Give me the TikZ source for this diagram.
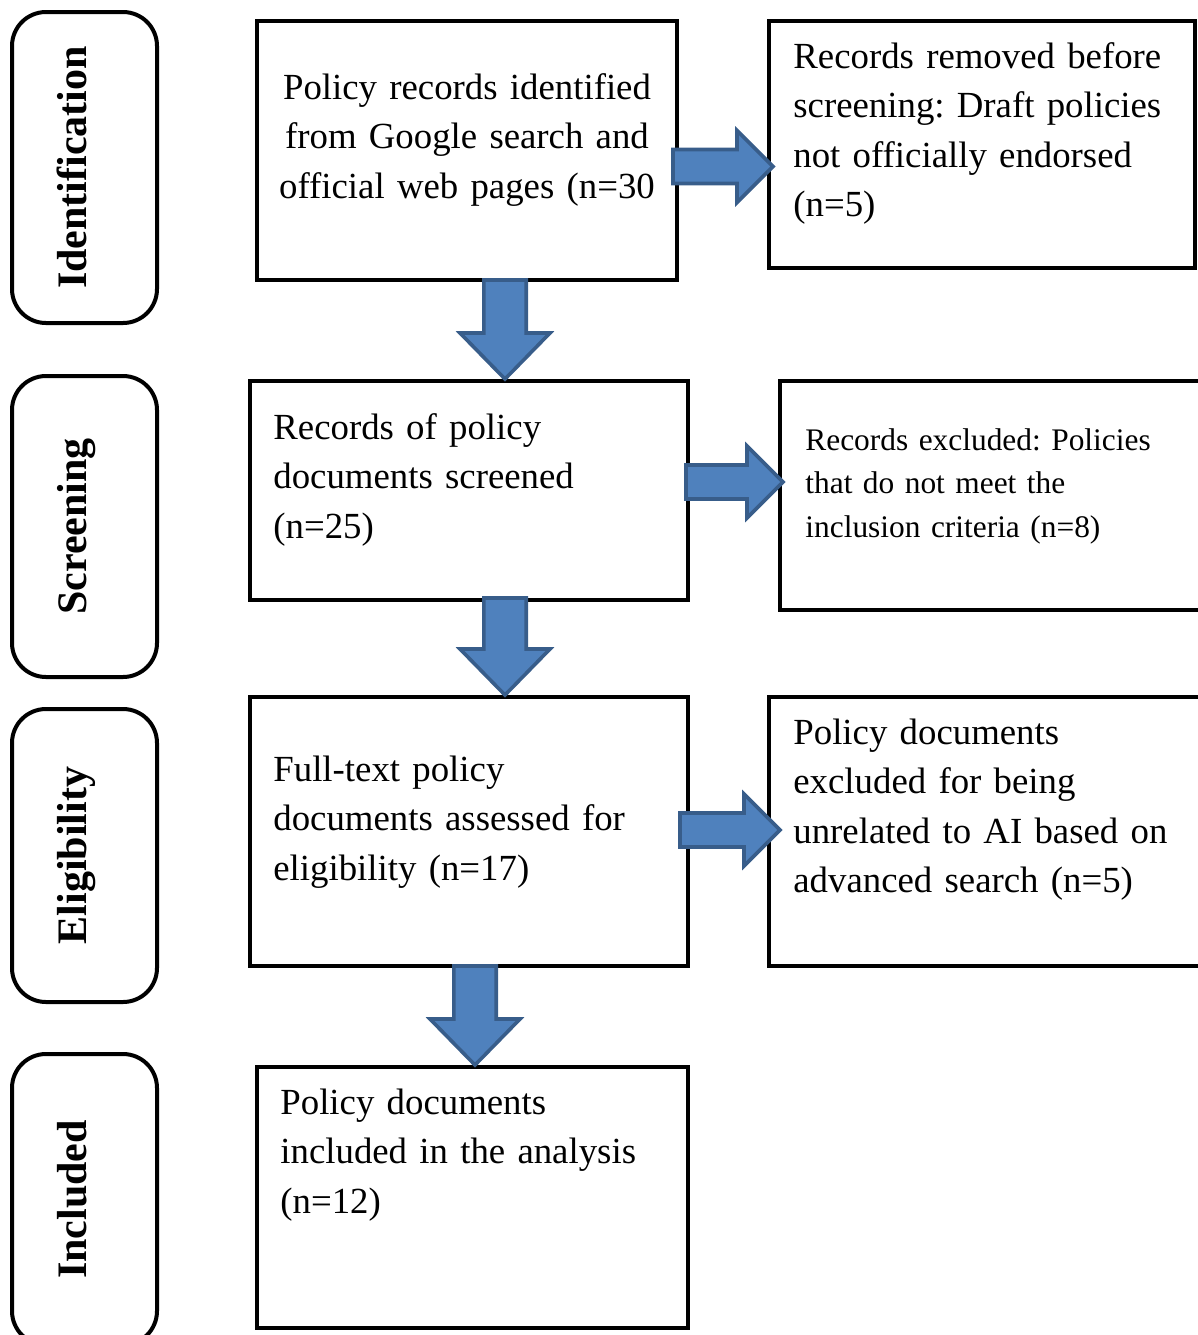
\documentclass[tikz,border=0pt]{standalone}
\usepackage{fontspec}
\setmainfont{Liberation Serif}
\usetikzlibrary{calc}
\definecolor{arrowfill}{RGB}{79,129,189}
\definecolor{arrowedge}{RGB}{56,93,138}
\frenchspacing

\begin{document}
\begin{tikzpicture}[
        x=0.5pt,
        y=-0.5pt,
        stage/.style={
            draw,
            line width=2pt,
            rounded corners=17pt,
            minimum width=72.5pt
        },
        stagelabel/.style={
            font=\fontsize{21}{25}\selectfont\bfseries,
            rotate=90,
            anchor=base,
            inner sep=0pt
        },
        flowbox/.style={
            draw,
            line width=2pt,
            inner sep=0pt
        },
        txt/.style={
            font=\fontsize{18.4}{24.8}\selectfont,
            inner sep=0pt,
            anchor=base west,
            text width=215pt,
            align=left
        },
        smalltxt/.style={txt, font=\fontsize{15.7}{21.75}\selectfont},
        downarrow/.style={
            draw=arrowedge,
            fill=arrowfill,
            line width=1.8pt,
            to path={let \p1=(\tikztostart), \p2=(\tikztotarget) in
                (\x1-10.6pt,\y1) -- (\x1+10.6pt,\y1) -- (\x1+10.6pt,\y2+23pt)
                -- (\x1+22.5pt,\y2+23pt) -- (\x1,\y2) -- (\x1-22.5pt,\y2+23pt)
                -- (\x1-10.6pt,\y2+23pt) -- cycle}
        },
        rightarrow/.style={
            draw=arrowedge,
            fill=arrowfill,
            line width=1.8pt,
            to path={let \p1=(\tikztostart), \p2=(\tikztotarget) in
                (\x1,\y1+8.5pt) -- (\x2-18pt,\y1+8.5pt) -- (\x2-18pt,\y1+18pt)
                -- (\x2,\y1) -- (\x2-18pt,\y1-18pt) -- (\x2-18pt,\y1-8.5pt)
                -- (\x1,\y1-8.5pt) -- cycle}
        }
    ]
    \useasboundingbox (0,0) rectangle (1198,1335);
    \clip (0,0) rectangle (1198,1335);

    % Stages
    \node[stage, minimum height=155.5pt] (s1) at (84.5,167.5) {};
    \node[stage, minimum height=150.5pt] (s2) at (84.5,526.5) {};
    \node[stage, minimum height=146.5pt] (s3) at (84.5,855.5) {};
    \node[stage, minimum height=145.5pt] (s4) at (84.5,1199.5) {};
    \node[stagelabel] (l1) at (86,167.5) {Identification};
    \node[stagelabel] (l2) at (86,526.5) {Screening};
    \node[stagelabel] (l3) at (86,855.5) {Eligibility};
    \node[stagelabel] (l4) at (86,1199.5) {Included};

    % Main column
    \node[flowbox, minimum width=210pt, minimum height=129.5pt] (b1) at (467,150.5) {};
    \node[flowbox, minimum width=219pt, minimum height=109.5pt] (b2) at (469,490.5) {};
    \node[flowbox, minimum width=219pt, minimum height=134.5pt] (b3) at (469,831.5) {};
    \node[flowbox, minimum width=215.5pt, minimum height=130.5pt] (b4) at (472.5,1197.5) {};

    \node[txt, anchor=base, align=center, text width=200pt] (t1) at (467,99)
        {Policy records identified\\ from Google search and\\ official web pages (n=30};
    \node[txt] (t2) at (273,439) {Records of policy\\ documents screened\\ (n=25)};
    \node[txt] (t3) at (273,781) {Full-text policy\\ documents assessed for\\ eligibility (n=17)};
    \node[txt] (t4) at (280,1114) {Policy documents\\ included in the analysis\\ (n=12)};

    % Excluded column
    \node[flowbox, minimum width=213pt, minimum height=123.5pt] (r1) at (982,144.5) {};
    \node[flowbox, minimum width=215pt, minimum height=114.5pt] (r2) at (995,495.5) {};
    \node[flowbox, minimum width=220.5pt, minimum height=134.5pt] (r3) at (989.5,831.5) {};

    \node[txt] (tr1) at (793,68) {Records removed before\\ screening: Draft policies\\ not officially endorsed\\ (n=5)};
    \node[smalltxt] (tr2) at (805,450) {Records excluded: Policies\\ that do not meet the\\ inclusion criteria (n=8)};
    \node[txt] (tr3) at (793,744) {Policy documents\\ excluded for being\\ unrelated to AI based on\\ advanced search (n=5)};

    % Block arrows
    \draw[downarrow] ([xshift=19pt,yshift=1pt]b1.south) to (b2.north);
    \draw[downarrow] ([xshift=18pt,yshift=2pt]b2.south) to (b3.north);
    \draw[downarrow] ([xshift=3pt,yshift=1pt]b3.south) to (b4.north);
    \draw[rightarrow] ([xshift=-3pt,yshift=-8pt]b1.east) to ([xshift=3pt]r1.west);
    \draw[rightarrow] ([xshift=-2pt,yshift=4.25pt]b2.east) to ([xshift=2.5pt]r2.west);
    \draw[rightarrow] ([xshift=-5pt,yshift=0.75pt]b3.east) to ([xshift=6.5pt]r3.west);

\end{tikzpicture}
\end{document}
